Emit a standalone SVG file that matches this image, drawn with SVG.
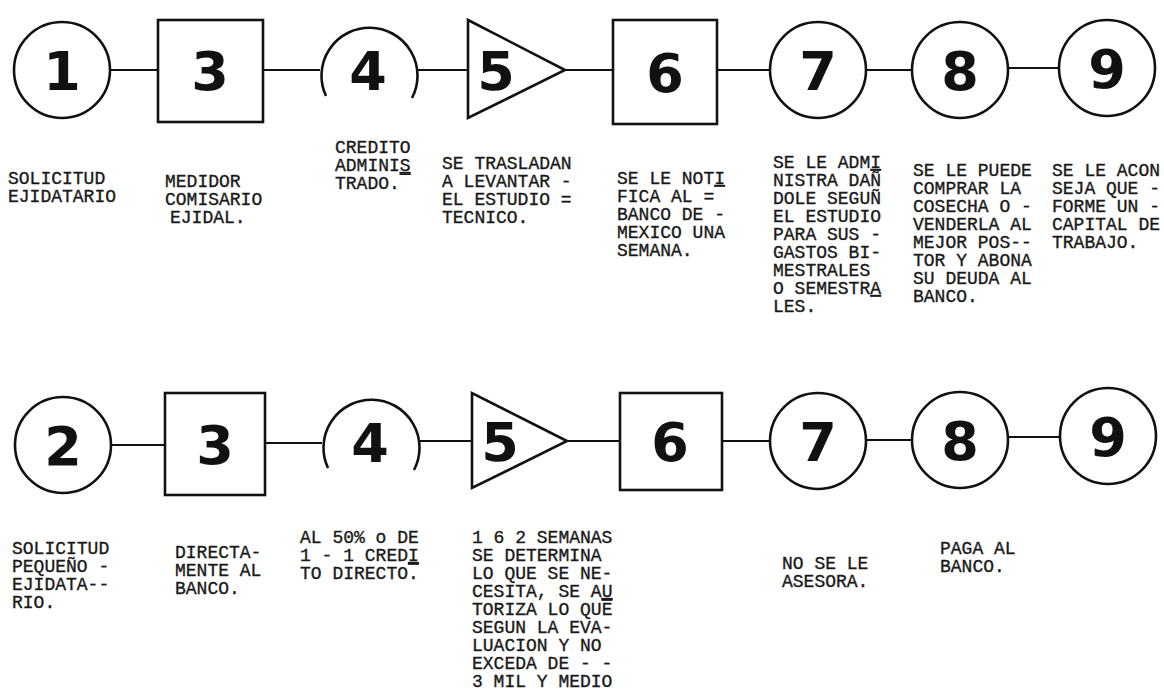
<svg xmlns="http://www.w3.org/2000/svg" width="1164" height="700" viewBox="0 0 1164 700">
<style>
.s{fill:none;stroke:#111;stroke-width:2.6}
.c{fill:none;stroke:#111;stroke-width:2.2}
.d{font-family:"DejaVu Sans",sans-serif;font-weight:bold;font-size:54px;fill:#111;text-anchor:middle}
.t{font-family:"Liberation Mono","Courier New",monospace;font-size:18px;fill:#1a1a1a;stroke:#1a1a1a;stroke-width:0.35}
</style>
<rect width="1164" height="700" fill="#fff"/>
<g id="connectors" class="c">
<line x1="111" y1="70" x2="158" y2="70"/>
<line x1="263" y1="70" x2="320" y2="70"/>
<line x1="416" y1="70" x2="468" y2="70"/>
<line x1="565" y1="70" x2="613" y2="70"/>
<line x1="717" y1="70" x2="770" y2="70"/>
<line x1="866" y1="70" x2="912" y2="70"/>
<line x1="1008" y1="68" x2="1059" y2="68"/>
<line x1="111" y1="445" x2="165" y2="445"/>
<line x1="265" y1="443" x2="322" y2="443"/>
<line x1="418" y1="441" x2="472" y2="441"/>
<line x1="567" y1="441" x2="620" y2="441"/>
<line x1="722" y1="441" x2="770" y2="441"/>
<line x1="866" y1="440" x2="912" y2="440"/>
<line x1="1008" y1="437" x2="1060" y2="437"/>
</g>
<g id="n1"><circle class="s" cx="62" cy="70" r="48"/><text class="d" x="62" y="90">1</text>
<text class="t" x="8" y="184">SOLICITUD</text><text class="t" x="8" y="202">EJIDATARIO</text></g>
<g id="n3a"><rect class="s" x="158" y="20" width="105" height="102"/><text class="d" x="210" y="90">3</text>
<text class="t" x="165" y="187">MEDIDOR</text><text class="t" x="165" y="205">COMISARIO</text><text class="t" x="170" y="223">EJIDAL.</text></g>
<g id="n4a"><path class="s" d="M 326 96 A 48 48 0 1 1 412 98"/><text class="d" x="368" y="90">4</text>
<text class="t" x="335" y="153">CREDITO</text><text class="t" x="335" y="171">ADMINI<tspan text-decoration="underline">S</tspan></text><text class="t" x="335" y="189">TRADO.¯</text></g>
<g id="n5a"><polygon class="s" points="468,20 468,118 565,70"/><text class="d" x="496" y="90">5</text>
<text class="t" x="442" y="169">SE TRASLADAN</text><text class="t" x="442" y="187">A LEVANTAR -</text><text class="t" x="442" y="205">EL ESTUDIO =</text><text class="t" x="442" y="223">TECNICO.</text></g>
<g id="n6a"><rect class="s" x="613" y="20" width="104" height="104"/><text class="d" x="665" y="92">6</text>
<text class="t" x="617" y="184">SE LE NOT<tspan text-decoration="underline">I</tspan></text><text class="t" x="617" y="202">FICA AL =</text><text class="t" x="617" y="220">BANCO DE -</text><text class="t" x="617" y="238">MEXICO UNA</text><text class="t" x="617" y="256">SEMANA.</text></g>
<g id="n7a"><circle class="s" cx="818" cy="70" r="48"/><text class="d" x="818" y="90">7</text>
<text class="t" x="773" y="168">SE LE ADM<tspan text-decoration="underline">I</tspan></text><text class="t" x="773" y="186">NISTRA DAÑ</text><text class="t" x="773" y="204">DOLE SEGUÑ</text><text class="t" x="773" y="222">EL ESTUDIO</text><text class="t" x="773" y="240">PARA SUS -</text><text class="t" x="773" y="258">GASTOS BI-</text><text class="t" x="773" y="276">MESTRALES</text><text class="t" x="773" y="294">O SEMESTR<tspan text-decoration="underline">A</tspan></text><text class="t" x="773" y="312">LES.</text></g>
<g id="n8a"><circle class="s" cx="960" cy="70" r="48"/><text class="d" x="960" y="90">8</text>
<text class="t" x="913" y="176">SE LE PUEDE</text><text class="t" x="913" y="194">COMPRAR LA</text><text class="t" x="913" y="212">COSECHA O -</text><text class="t" x="913" y="230">VENDERLA AL</text><text class="t" x="913" y="248">MEJOR POS--</text><text class="t" x="913" y="266">TOR Y ABONA</text><text class="t" x="913" y="284">SU DEUDA AL</text><text class="t" x="913" y="302">BANCO.</text></g>
<g id="n9a"><circle class="s" cx="1107" cy="68" r="48"/><text class="d" x="1107" y="88">9</text>
<text class="t" x="1052" y="176">SE LE ACON</text><text class="t" x="1052" y="194">SEJA QUE -</text><text class="t" x="1052" y="212">FORME UN -</text><text class="t" x="1052" y="230">CAPITAL DE</text><text class="t" x="1052" y="248">TRABAJO.</text></g>
<g id="n2"><circle class="s" cx="63" cy="445" r="48"/><text class="d" x="63" y="465">2</text>
<text class="t" x="12" y="554">SOLICITUD</text><text class="t" x="12" y="572">PEQUEÑO -</text><text class="t" x="12" y="590">EJIDATA--</text><text class="t" x="12" y="608">RIO.</text></g>
<g id="n3b"><rect class="s" x="165" y="393" width="100" height="102"/><text class="d" x="215" y="464">3</text>
<text class="t" x="175" y="558">DIRECTA-</text><text class="t" x="175" y="576">MENTE AL</text><text class="t" x="175" y="594">BANCO.</text></g>
<g id="n4b"><path class="s" d="M 328 468 A 48 48 0 1 1 414 470"/><text class="d" x="370" y="462">4</text>
<text class="t" x="300" y="543">AL 50% o DE</text><text class="t" x="300" y="561">1 - 1 CRED<tspan text-decoration="underline">I</tspan></text><text class="t" x="300" y="579">TO DIRECTO<tspan text-decoration="overline">.</tspan></text></g>
<g id="n5b"><polygon class="s" points="472,393 472,488 567,441"/><text class="d" x="500" y="461">5</text>
<text class="t" x="472" y="543">1 6 2 SEMANAS</text><text class="t" x="472" y="561">SE DETERMINA</text><text class="t" x="472" y="579">LO QUE SE NE-</text><text class="t" x="472" y="597">CESITA, SE A<tspan text-decoration="underline">U</tspan></text><text class="t" x="472" y="615">TORIZA LO QU<tspan text-decoration="overline">E</tspan></text><text class="t" x="472" y="633">SEGUN LA EVA-</text><text class="t" x="472" y="651">LUACION Y NO</text><text class="t" x="472" y="669">EXCEDA DE - -</text><text class="t" x="472" y="687">3 MIL Y MEDIO</text></g>
<g id="n6b"><rect class="s" x="620" y="393" width="102" height="97"/><text class="d" x="670" y="461">6</text></g>
<g id="n7b"><circle class="s" cx="818" cy="441" r="48"/><text class="d" x="818" y="461">7</text>
<text class="t" x="782" y="569">NO SE LE</text><text class="t" x="782" y="587">ASESORA.</text></g>
<g id="n8b"><circle class="s" cx="960" cy="440" r="48"/><text class="d" x="960" y="460">8</text>
<text class="t" x="940" y="554">PAGA AL</text><text class="t" x="940" y="572">BANCO.</text></g>
<g id="n9b"><circle class="s" cx="1108" cy="436" r="48"/><text class="d" x="1108" y="456">9</text></g>
</svg>
